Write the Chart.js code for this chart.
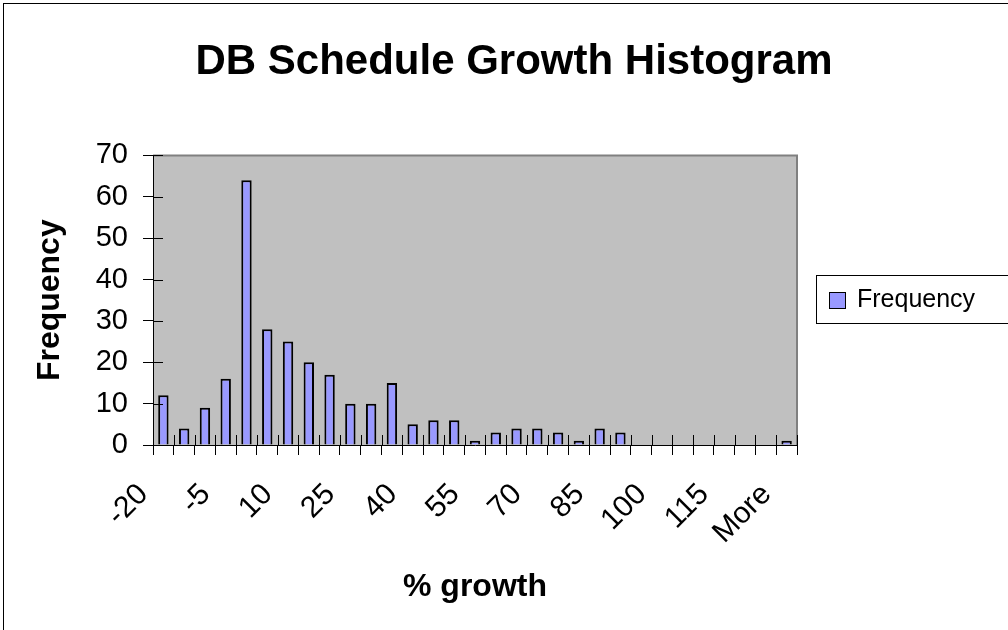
<!DOCTYPE html>
<html>
<head>
<meta charset="utf-8">
<script src="https://cdn.jsdelivr.net/npm/chart.js@4.4.1/dist/chart.umd.min.js"></script>
<style>
  html, body { margin: 0; padding: 0; background: #fff; }
  #wrap { width: 1008px; height: 630px; }
</style>
</head>
<body>
<div id="wrap"><canvas id="grafico-histograma" width="1008" height="630"></canvas></div>
<script>
// bins (% growth) and their counts
const categorias = ['-20', '-15', '-10', '-5', '0', '5', '10', '15', '20', '25', '30', '35', '40', '45', '50', '55',
  '60', '65', '70', '75', '80', '85', '90', '95', '100', '105', '110', '115', '120', '125', 'More'];
const frecuencias = [12, 4, 9, 16, 64, 28, 25, 20, 17, 10, 10, 15, 5, 6, 6, 1,
  3, 4, 4, 3, 1, 4, 3, 0, 0, 0, 0, 0, 0, 0, 1];
const ticksY = [0, 10, 20, 30, 40, 50, 60, 70];

const fuente = 'Liberation Sans, Arial, sans-serif';

(function () {
  const ctx = document.getElementById('grafico-histograma');

  // gray plot area, outer frame, inner tick marks and the boxed legend
  const marcoExcel = {
    id: 'marcoExcel',
    beforeDraw(chart) {
      const c = chart.ctx;
      const a = chart.chartArea;
      c.save();
      c.fillStyle = '#fff';
      c.fillRect(0, 0, chart.width, chart.height);
      c.strokeStyle = '#000';
      c.lineWidth = 1;
      c.strokeRect(3.5, 3.5, chart.width + 20, chart.height + 20);
      c.fillStyle = '#C0C0C0';
      c.fillRect(a.left, a.top, a.right - a.left, a.bottom - a.top);
      c.strokeStyle = '#808080';
      c.lineWidth = 2;
      c.beginPath();
      c.moveTo(a.left, a.top);
      c.lineTo(a.right, a.top);
      c.lineTo(a.right, a.bottom);
      c.stroke();
      c.restore();
    },
    afterDraw(chart) {
      const c = chart.ctx;
      const x = chart.scales.x;
      const y = chart.scales.y;
      c.save();
      c.strokeStyle = '#000';
      c.lineWidth = 1;
      c.beginPath();
      const n = categorias.length;
      const paso = (x.right - x.left) / n;
      for (let i = 0; i <= n; i++) {
        const px = Math.round(x.left + i * paso) + 0.5;
        c.moveTo(px, x.top);
        c.lineTo(px, x.top - 10);
      }
      ticksY.forEach(v => {
        const py = Math.round(y.getPixelForValue(v)) + 0.5;
        c.moveTo(y.right, py);
        c.lineTo(y.right + 10, py);
      });
      c.stroke();

      // legend
      const ds = chart.data.datasets[0];
      c.fillStyle = '#fff';
      c.fillRect(816, 275, 220, 48);
      c.strokeRect(816.5, 275.5, 220, 48);
      c.fillStyle = ds.backgroundColor;
      c.fillRect(829, 292, 16, 16);
      c.strokeRect(829.5, 292.5, 16, 16);
      c.fillStyle = '#000';
      c.font = '25px ' + fuente;
      c.textBaseline = 'middle';
      c.fillText(ds.label, 857, 300);
      c.restore();
    }
  };

  new Chart(ctx, {
    type: 'bar',
    data: {
      labels: categorias,
      datasets: [{
        label: 'Frequency',
        data: frecuencias,
        backgroundColor: '#9999FF',
        borderColor: '#000',
        borderWidth: 2,
        barPercentage: 0.5,
        categoryPercentage: 1
      }]
    },
    options: {
      responsive: false,
      animation: false,
      layout: { padding: { left: 20, right: 0, top: 0, bottom: 0 } },
      plugins: {
        legend: { display: false },
        tooltip: { enabled: false },
        title: {
          display: true,
          text: 'DB Schedule Growth Histogram',
          color: '#000',
          font: { family: fuente, size: 42, weight: 'bold' },
          padding: { top: 37, bottom: 68 }
        }
      },
      scales: {
        x: {
          afterFit(scale) { scale.height = 185; },
          border: { color: '#000', width: 1 },
          grid: { drawOnChartArea: false, color: '#000', tickLength: 10 },
          ticks: {
            autoSkip: false,
            minRotation: 45,
            maxRotation: 45,
            color: '#000',
            padding: 22,
            labelOffset: -20,
            font: { family: fuente, size: 30 },
            callback: function (val, i) { return i % 3 === 0 ? categorias[i] : ''; }
          },
          title: {
            display: true,
            text: '% growth',
            color: '#000',
            font: { family: fuente, size: 32, weight: 'bold' },
            padding: { top: 0, bottom: 24 }
          }
        },
        y: {
          min: 0,
          max: 70,
          afterFit(scale) { scale.width = 133; },
          border: { color: '#000', width: 1 },
          grid: { drawOnChartArea: false, color: '#000', tickLength: 10 },
          ticks: {
            stepSize: 10,
            color: '#000',
            padding: 15,
            font: { family: fuente, size: 29 }
          },
          title: {
            display: true,
            text: 'Frequency',
            color: '#000',
            font: { family: fuente, size: 32, weight: 'bold' },
            padding: { top: 11, bottom: 0 }
          }
        },
        // empty right-hand box that leaves room for the legend
        derecha: {
          type: 'linear',
          position: 'right',
          afterFit(scale) { scale.width = 211; },
          border: { display: false },
          grid: { display: false },
          ticks: { display: false }
        }
      }
    },
    plugins: [marcoExcel]
  });
})();
</script>
</body>
</html>
